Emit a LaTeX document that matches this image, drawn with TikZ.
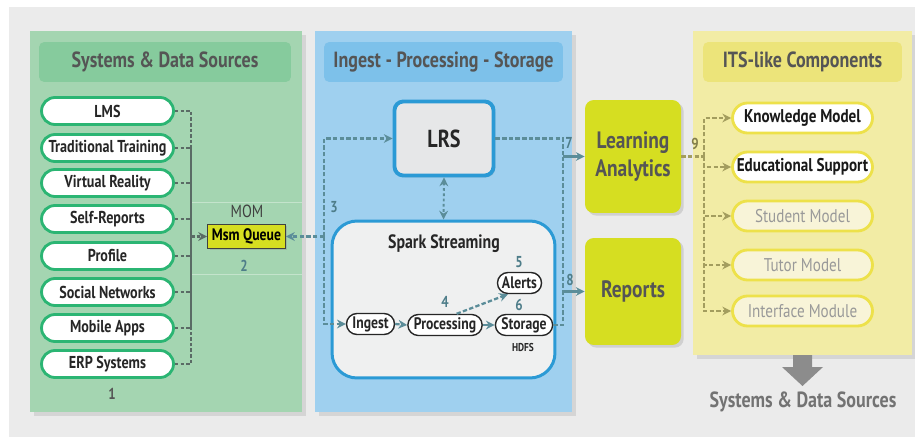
\documentclass[tikz,border=0pt]{standalone}
\usepackage{fontspec}
\setmainfont[FakeStretch=0.82]{PT Sans}
\usetikzlibrary{arrows.meta,shapes.misc,shadows}

\definecolor{bggrey}{HTML}{EBEBEB}
\definecolor{txtgrey}{HTML}{555555}
\definecolor{greenpanel}{HTML}{A4D5B1}
\definecolor{greenband}{HTML}{86CB9D}
\definecolor{srcgreen}{HTML}{2BB573}
\definecolor{bluepanel}{HTML}{9FD0EF}
\definecolor{blueband}{HTML}{7DC1EA}
\definecolor{lrsblue}{HTML}{2B9AD5}
\definecolor{lrsfill}{HTML}{E6E7E8}
\definecolor{sparkfill}{HTML}{EFF0F0}
\definecolor{lime}{HTML}{D6DE21}
\definecolor{yellowpanel}{HTML}{F2ECA5}
\definecolor{yellowband}{HTML}{ECE47A}
\definecolor{itemborder}{HTML}{EDE14A}
\definecolor{itemfill}{HTML}{F8F4D8}
\definecolor{darkdash}{HTML}{5A6B65}
\definecolor{bluedash}{HTML}{5B8D99}
\definecolor{olive}{HTML}{A39D5E}
\definecolor{numblue}{HTML}{4E7D89}

\begin{document}
\begin{tikzpicture}[x=0.02cm, y=-0.02cm, every node/.style={font=\bfseries, text=txtgrey},
	band/.style={rounded corners=3pt, minimum height=0.8cm, font=\bfseries\fontsize{12.5}{14}\selectfont},
	src/.style={rounded rectangle, draw=srcgreen, line width=1.6pt, fill=white, minimum width=2.64cm, minimum height=0.54cm, inner sep=0pt, text=black!85, font=\bfseries\fontsize{9.8}{12}\selectfont},
	item/.style={rounded rectangle, draw=itemborder, line width=1.6pt, minimum width=2.8cm, minimum height=0.6cm, inner sep=0pt, font=\fontsize{10.5}{12}\selectfont},
	pill/.style={rounded rectangle, draw=black!85, line width=0.8pt, fill=white, minimum height=0.42cm, inner xsep=1.5pt, inner ysep=0pt, text=black!85, font=\bfseries\fontsize{9.5}{11}\selectfont},
	labox/.style={rounded corners=5pt, fill=lime, minimum width=1.92cm, font=\bfseries\fontsize{13.5}{16}\selectfont, align=center, drop shadow={shadow xshift=1.5pt, shadow yshift=-1.5pt, opacity=0.25}},
	num/.style={text=numblue, font=\bfseries\fontsize{9}{10}\selectfont},
	gdash/.style={darkdash, line width=1.2pt, dash pattern=on 2pt off 1.2pt},
	bdash/.style={bluedash, line width=1.3pt, dash pattern=on 2.5pt off 1.3pt},
	ydash/.style={olive, line width=1.3pt, dash pattern=on 2.5pt off 1.3pt},
	tip/.style={-{Stealth[length=5pt, width=5pt]}}]
	\useasboundingbox (0,0) rectangle (915,439);
	\fill[bggrey] (9,7) rectangle (915,437);
	% panels
	\fill[greenpanel, drop shadow={shadow xshift=2pt, shadow yshift=-2pt, opacity=0.2}] (30,31) rectangle (302,412);
	\fill[bluepanel, drop shadow={shadow xshift=2pt, shadow yshift=-2pt, opacity=0.2}] (315,31) rectangle (572,412);
	\fill[yellowpanel, drop shadow={shadow xshift=2pt, shadow yshift=-2pt, opacity=0.2}] (693,31) rectangle (912,355);
	\draw[white!35!greenpanel, line width=0.5pt] (191,202) -- (302,202) (191,274) -- (302,274);
	\node[band, fill=greenband, minimum width=5.04cm] (t1) at (165,62) {Systems \& Data Sources};
	\node[band, fill=blueband, minimum width=4.78cm] (t2) at (443.5,62) {Ingest - Processing - Storage};
	\node[band, fill=yellowband, minimum width=3.98cm] (t3) at (802.5,62) {ITS-like Components};
	% sources
	\node[src] (lms) at (107.5,111) {LMS};
	\node[src] (trad) at (107.5,148) {Traditional Training};
	\node[src] (vr) at (107.5,183) {Virtual Reality};
	\node[src] (self) at (107.5,219) {Self-Reports};
	\node[src] (prof) at (107.5,256) {Profile};
	\node[src] (soc) at (107.5,292) {Social Networks};
	\node[src] (mob) at (107.5,328) {Mobile Apps};
	\node[src] (erp) at (107.5,364) {ERP Systems};
	\node (n1) at (112,394) {\fontsize{9}{10}\selectfont 1};
	% message queue
	\node[font=\fontsize{10}{12}\selectfont, text=black!75] (mom) at (247,211) {MOM};
	\node[draw=black!75, line width=0.8pt, fill=lime, minimum width=1.55cm, minimum height=0.48cm, inner sep=0pt, text=black, font=\bfseries\fontsize{9.5}{11}\selectfont, drop shadow={shadow xshift=1pt, shadow yshift=-1pt, opacity=0.3}] (mq) at (246.5,236.5) {Msm Queue};
	\node[num] (n2) at (244,266) {2};
	\coordinate (gbus) at (191,236.5);
	\draw[gdash] (lms.east) -| (gbus);
	\draw[gdash] (trad.east) -| (gbus);
	\draw[gdash] (vr.east) -| (gbus);
	\draw[gdash] (self.east) -| (gbus);
	\draw[gdash] (prof.east) -| (gbus);
	\draw[gdash] (soc.east) -| (gbus);
	\draw[gdash] (mob.east) -| (gbus);
	\draw[gdash] (erp.east) -| (gbus);
	\draw[gdash, tip] (gbus) -- (mq.west);
	% ingest - processing - storage
	\node[draw=lrsblue, line width=2.2pt, fill=lrsfill, rounded corners=5pt, minimum width=1.98cm, minimum height=1.48cm, text=black!85, font=\bfseries\fontsize{14}{16}\selectfont, drop shadow={shadow xshift=1pt, shadow yshift=-1pt, opacity=0.25}] (lrs) at (444,138.5) {LRS};
	\node[draw=lrsblue, line width=1.7pt, fill=sparkfill, rounded corners=0.5cm, minimum width=4.46cm, minimum height=3.14cm] (spark) at (443.5,299.5) {};
	\node[text=black!85, font=\bfseries\fontsize{11}{13}\selectfont] (sst) at (444,244) {Spark Streaming};
	\node[pill] (ing) at (370.5,324) {Ingest};
	\node[pill] (proc) at (445,325) {Processing};
	\node[pill] (sto) at (524,325) {Storage};
	\node[pill] (alr) at (519.5,283) {Alerts};
	\node[text=black!85, font=\bfseries\fontsize{6.5}{7}\selectfont] (hdfs) at (523,347) {HDFS};
	\node[num] (n3) at (334,207) {3};
	\node[num] (n4) at (445,302) {4};
	\node[num] (n5) at (519,262) {5};
	\node[num] (n6) at (519,305) {6};
	\coordinate (bbus) at (324,236.5);
	\draw[bdash, tip] (bbus) -- (mq.east);
	\draw[bdash, tip] (bbus) |- (lrs.west);
	\draw[bdash, tip] (bbus) |- (ing.west);
	\draw[bluedash, line width=1.1pt, dash pattern=on 1.5pt off 1.5pt, {Stealth[length=5pt, width=5pt]}-{Stealth[length=5pt, width=5pt]}] (lrs.south) -- (spark.north);
	\draw[bdash, tip] (ing.east) -- (proc.west);
	\draw[bluedash, line width=1.4pt, tip] (proc.east) -- (sto.west);
	\draw[bdash, tip] ([xshift=-0.3cm]proc.north east) -- (alr.south west);
	% analytics and reports
	\node[labox, minimum height=2.26cm] (la) at (633,156.5) {Learning\\Analytics};
	\node[labox, minimum height=2.14cm] (rep) at (633,291.5) {Reports};
	\coordinate (b7) at (563,156.5);
	\coordinate (b8) at (563,291.5);
	\draw[bdash] (lrs.east) -| (b7);
	\draw[bdash] (sto.east) -| (b8);
	\draw[bdash] (b7) -- (b8);
	\draw[bluedash, line width=1.4pt, tip] (b7) -- (la.west);
	\draw[bluedash, line width=1.4pt, tip] (b8) -- (rep.west);
	\node[num] (n7) at (569,143) {7};
	\node[num] (n8) at (570,280) {8};
	% ITS-like components
	\node[item, fill=white, text=black!90, font=\bfseries\fontsize{10.5}{12}\selectfont] (km) at (802.5,118) {Knowledge Model};
	\node[item, fill=white, text=black!90, font=\bfseries\fontsize{10.5}{12}\selectfont] (es) at (802.5,167) {Educational Support};
	\node[item, fill=itemfill, text=black!40] (sm) at (802.5,216) {Student Model};
	\node[item, fill=itemfill, text=black!40] (tm) at (802.5,265) {Tutor Model};
	\node[item, fill=itemfill, text=black!40] (im) at (802.5,311) {Interface Module};
	\node[num, text=olive!80!black] (n9) at (695,144) {9};
	\coordinate (ybus) at (704,156.5);
	\draw[ydash] (la.east) -- (ybus);
	\draw[ydash, tip] (ybus) |- (km.west);
	\draw[ydash, tip] (ybus) |- (es.west);
	\draw[ydash, tip] (ybus) |- (sm.west);
	\draw[ydash, tip] (ybus) |- (tm.west);
	\draw[ydash, tip] (ybus) |- (im.west);
	% back to the sources
	\fill[black!45] (793,355) -- (812,355) -- (812,367) -- (823,367) -- (802.5,386) -- (782,367) -- (793,367) -- cycle;
	\node[text=black!55, font=\bfseries\fontsize{12.5}{14}\selectfont] (back) at (803,402) {Systems \& Data Sources};
\end{tikzpicture}
\end{document}
